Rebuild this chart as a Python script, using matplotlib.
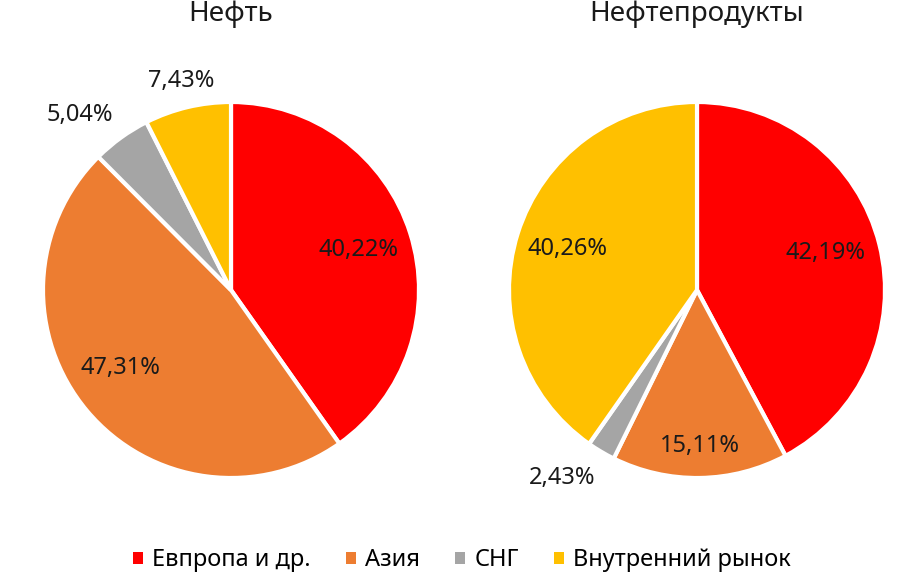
import numpy as np
import matplotlib
matplotlib.use('Agg')
import matplotlib.pyplot as plt
from matplotlib.patches import Patch

plt.rcParams['font.family'] = ['Noto Sans', 'DejaVu Sans']

# ── Data ──────────────────────────────────────────────────────────────────────
categories = ['Евпропа и др.', 'Азия', 'СНГ', 'Внутренний рынок']
colors     = ['#FF0000', '#ED7D31', '#A5A5A5', '#FFC000']

oil_values      = [40.22, 47.31, 5.04, 7.43]
products_values = [42.19, 15.11, 2.43, 40.26]

titles = ['Нефть', 'Нефтепродукты']

# label distance (fraction of radius) and angular nudge (deg) per slice
oil_label_dist       = [0.71, 0.72, 1.23, 1.14]
oil_label_nudge      = [0, -5, 5, 0]
products_label_dist  = [0.71, 0.83, 1.23, 0.72]
products_label_nudge = [2, 0, -5, 0]

# ── Figure ────────────────────────────────────────────────────────────────────
fig = plt.figure(figsize=(9, 5.8), dpi=100)

W, H = 900, 580
R = 188


def draw_pie(cx, cy, values, dists, nudges, title):
    ax = fig.add_axes([(cx - R) / W, (H - cy - R) / H, 2 * R / W, 2 * R / H])
    ax.pie(values, colors=colors, startangle=90, counterclock=False,
           wedgeprops=dict(edgecolor='white', linewidth=3))
    ax.set_xlim(-1, 1)
    ax.set_ylim(-1, 1)
    ax.set_aspect('equal')
    ax.axis('off')

    total = sum(values)
    start = 90.0
    for v, d, n in zip(values, dists, nudges):
        sweep = 360.0 * v / total
        mid = np.deg2rad(start - sweep / 2 + n)
        ax.text(d * np.cos(mid), d * np.sin(mid),
                f'{v:.2f}%'.replace('.', ','),
                ha='center', va='center', fontsize=17, color='#1a1a1a',
                clip_on=False)
        start -= sweep

    fig.text(cx / W, 1 - 14 / H, title, ha='center', va='center',
             fontsize=20, color='#1a1a1a')


draw_pie(231, 290, oil_values, oil_label_dist, oil_label_nudge, titles[0])
draw_pie(697, 290, products_values, products_label_dist, products_label_nudge, titles[1])

handles = [Patch(facecolor=c, edgecolor='none') for c in colors]
fig.legend(handles, categories, loc='center', bbox_to_anchor=(462 / W, 1 - 560 / H),
           ncol=4, frameon=False, fontsize=17, handlelength=0.4, handleheight=0.4,
           handletextpad=0.4, columnspacing=1.5)

fig.savefig('out.png', dpi=100)
